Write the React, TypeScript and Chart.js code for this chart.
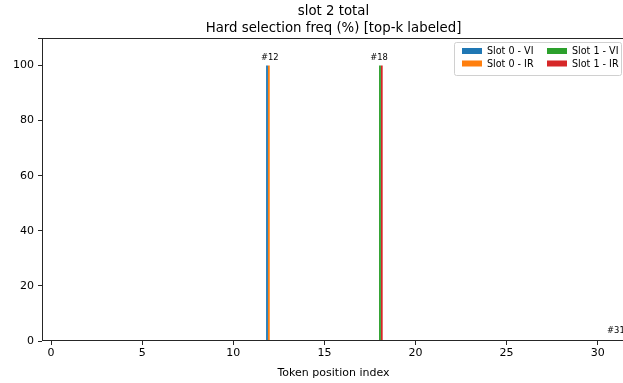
import { useEffect, useRef } from 'react';
import { Chart, registerables } from 'chart.js';
Chart.register(...registerables);

const positions = [
  '0','1','2','3','4','5','6','7','8','9','10','11','12','13','14','15',
  '16','17','18','19','20','21','22','23','24','25','26','27','28','29','30','31',
];
const slot0VI = [0,0,0,0,0,0,0,0,0,0,0,0,100,0,0,0,0,0,0,0,0,0,0,0,0,0,0,0,0,0,0,0];
const slot0IR = [0,0,0,0,0,0,0,0,0,0,0,0,100,0,0,0,0,0,0,0,0,0,0,0,0,0,0,0,0,0,0,0];
const slot1VI = [0,0,0,0,0,0,0,0,0,0,0,0,0,0,0,0,0,0,100,0,0,0,0,0,0,0,0,0,0,0,0,0];
const slot1IR = [0,0,0,0,0,0,0,0,0,0,0,0,0,0,0,0,0,0,100,0,0,0,0,0,0,0,0,0,0,0,0,0];
const seriesNames = ['Slot 0 - VI', 'Slot 0 - IR', 'Slot 1 - VI', 'Slot 1 - IR'];
const seriesColors = ['#1f77b4', '#ff7f0e', '#2ca02c', '#d62728'];
const topKLabels = [12, 18, 31];
const xTickValues = [0, 5, 10, 15, 20, 25, 30];
const yTickValues = [0, 20, 40, 60, 80, 100];
const titleLines = ['slot 2 total', 'Hard selection freq (%) [top-k labeled]'];
const xAxisLabel = 'Token position index';

const FONT = "'DejaVu Sans', sans-serif";

export default function App() {
  const ref = useRef<HTMLCanvasElement>(null);
  useEffect(() => {
    const canvas = ref.current!;
    const allSeries = [slot0VI, slot0IR, slot1VI, slot1IR];

    const framePlugin = {
      id: 'frame',
      afterDraw(chart: any) {
        const { ctx, chartArea: a } = chart;
        ctx.save();
        ctx.strokeStyle = '#262626';
        ctx.lineWidth = 1;
        const l = Math.round(a.left) + 0.5, r = Math.round(a.right) - 0.5;
        const t = Math.round(a.top) + 0.5, b = Math.round(a.bottom) - 0.5;
        ctx.strokeRect(l, t, r - l, b - t);
        // titles
        ctx.fillStyle = '#000';
        ctx.textAlign = 'center';
        ctx.textBaseline = 'alphabetic';
        const cx = (a.left + a.right) / 2;
        ctx.font = `13.3px ${FONT}`;
        ctx.fillText(titleLines[0], cx, 15);
        ctx.fillText(titleLines[1], cx, 31.5);
        ctx.font = `11px ${FONT}`;
        ctx.textBaseline = 'middle';
        ctx.fillText(xAxisLabel, cx, 373);
        // bar labels
        const xs = chart.scales.x, ys = chart.scales.y;
        ctx.font = `8.4px ${FONT}`;
        ctx.textBaseline = 'alphabetic';
        topKLabels.forEach((idx) => {
          const v = Math.max(...allSeries.map((s) => s[idx]));
          const x = xs.getPixelForValue(idx);
          const y = Math.min(ys.getPixelForValue(v + 2), ys.getPixelForValue(3));
          ctx.fillText('#' + idx, x, y);
        });
        // legend
        const bx = 454, by = 42, bw = 167, bh = 33;
        ctx.beginPath();
        if ((ctx as any).roundRect) (ctx as any).roundRect(bx + 0.5, by + 0.5, bw, bh, 2);
        else ctx.rect(bx + 0.5, by + 0.5, bw, bh);
        ctx.fillStyle = 'rgba(255,255,255,0.8)';
        ctx.fill();
        ctx.strokeStyle = '#d0d0d0';
        ctx.stroke();
        ctx.font = `9.6px ${FONT}`;
        ctx.textAlign = 'left';
        ctx.textBaseline = 'middle';
        const cols = [462, 547];
        const rows = [51, 63.5];
        seriesNames.forEach((name, i) => {
          const col = Math.floor(i / 2), row = i % 2;
          ctx.fillStyle = seriesColors[i];
          ctx.fillRect(cols[col], rows[row] - 3, 20, 6);
          ctx.fillStyle = '#000';
          ctx.fillText(name, cols[col] + 25, rows[row] + 0.5);
        });
        ctx.restore();
      },
    };

    const chart = new Chart(canvas, {
      type: 'bar',
      data: {
        labels: positions,
        datasets: allSeries.map((s, i) => ({
          label: seriesNames[i],
          data: s,
          backgroundColor: seriesColors[i],
          borderWidth: 0,
          categoryPercentage: 0.4,
          barPercentage: 1.0,
        })),
      },
      options: {
        animation: false,
        responsive: false,
        events: [],
        layout: { padding: { top: 38, left: 0, right: 0, bottom: 0 } },
        plugins: { legend: { display: false }, title: { display: false }, tooltip: { enabled: false } },
        scales: {
          x: {
            type: 'category',
            offset: true,
            border: { display: false },
            grid: {
              offset: false,
              drawOnChartArea: false,
              drawTicks: true,
              tickLength: 4,
              tickColor: (c: any) => (xTickValues.includes(c.index) ? '#262626' : 'rgba(0,0,0,0)'),
            },
            ticks: {
              autoSkip: false,
              maxRotation: 0,
              padding: 2,
              color: '#000',
              font: { family: FONT, size: 11 },
              callback: (_v: any, i: number) => (xTickValues.includes(i) ? String(i) : ''),
            },
            afterFit: (s: any) => { s.height = 42; },
          },
          y: {
            type: 'linear',
            min: 0,
            max: 110,
            border: { display: false },
            grid: { drawOnChartArea: false, drawTicks: true, tickLength: 4, tickColor: '#262626' },
            ticks: {
              stepSize: 20,
              padding: 4,
              color: '#000',
              font: { family: FONT, size: 11 },
              callback: (v: any) => (yTickValues.includes(v) ? String(v) : ''),
            },
            afterFit: (s: any) => { s.width = 42; },
          },
        },
      },
      plugins: [framePlugin],
    });
    return () => chart.destroy();
  }, []);

  return (
    <div style={{ position: 'fixed', left: 0, top: 0, width: 623, height: 383, overflow: 'hidden', background: '#fff' }}>
      <canvas ref={ref} width={625} height={383} style={{ width: 625, height: 383, display: 'block' }} />
    </div>
  );
}
